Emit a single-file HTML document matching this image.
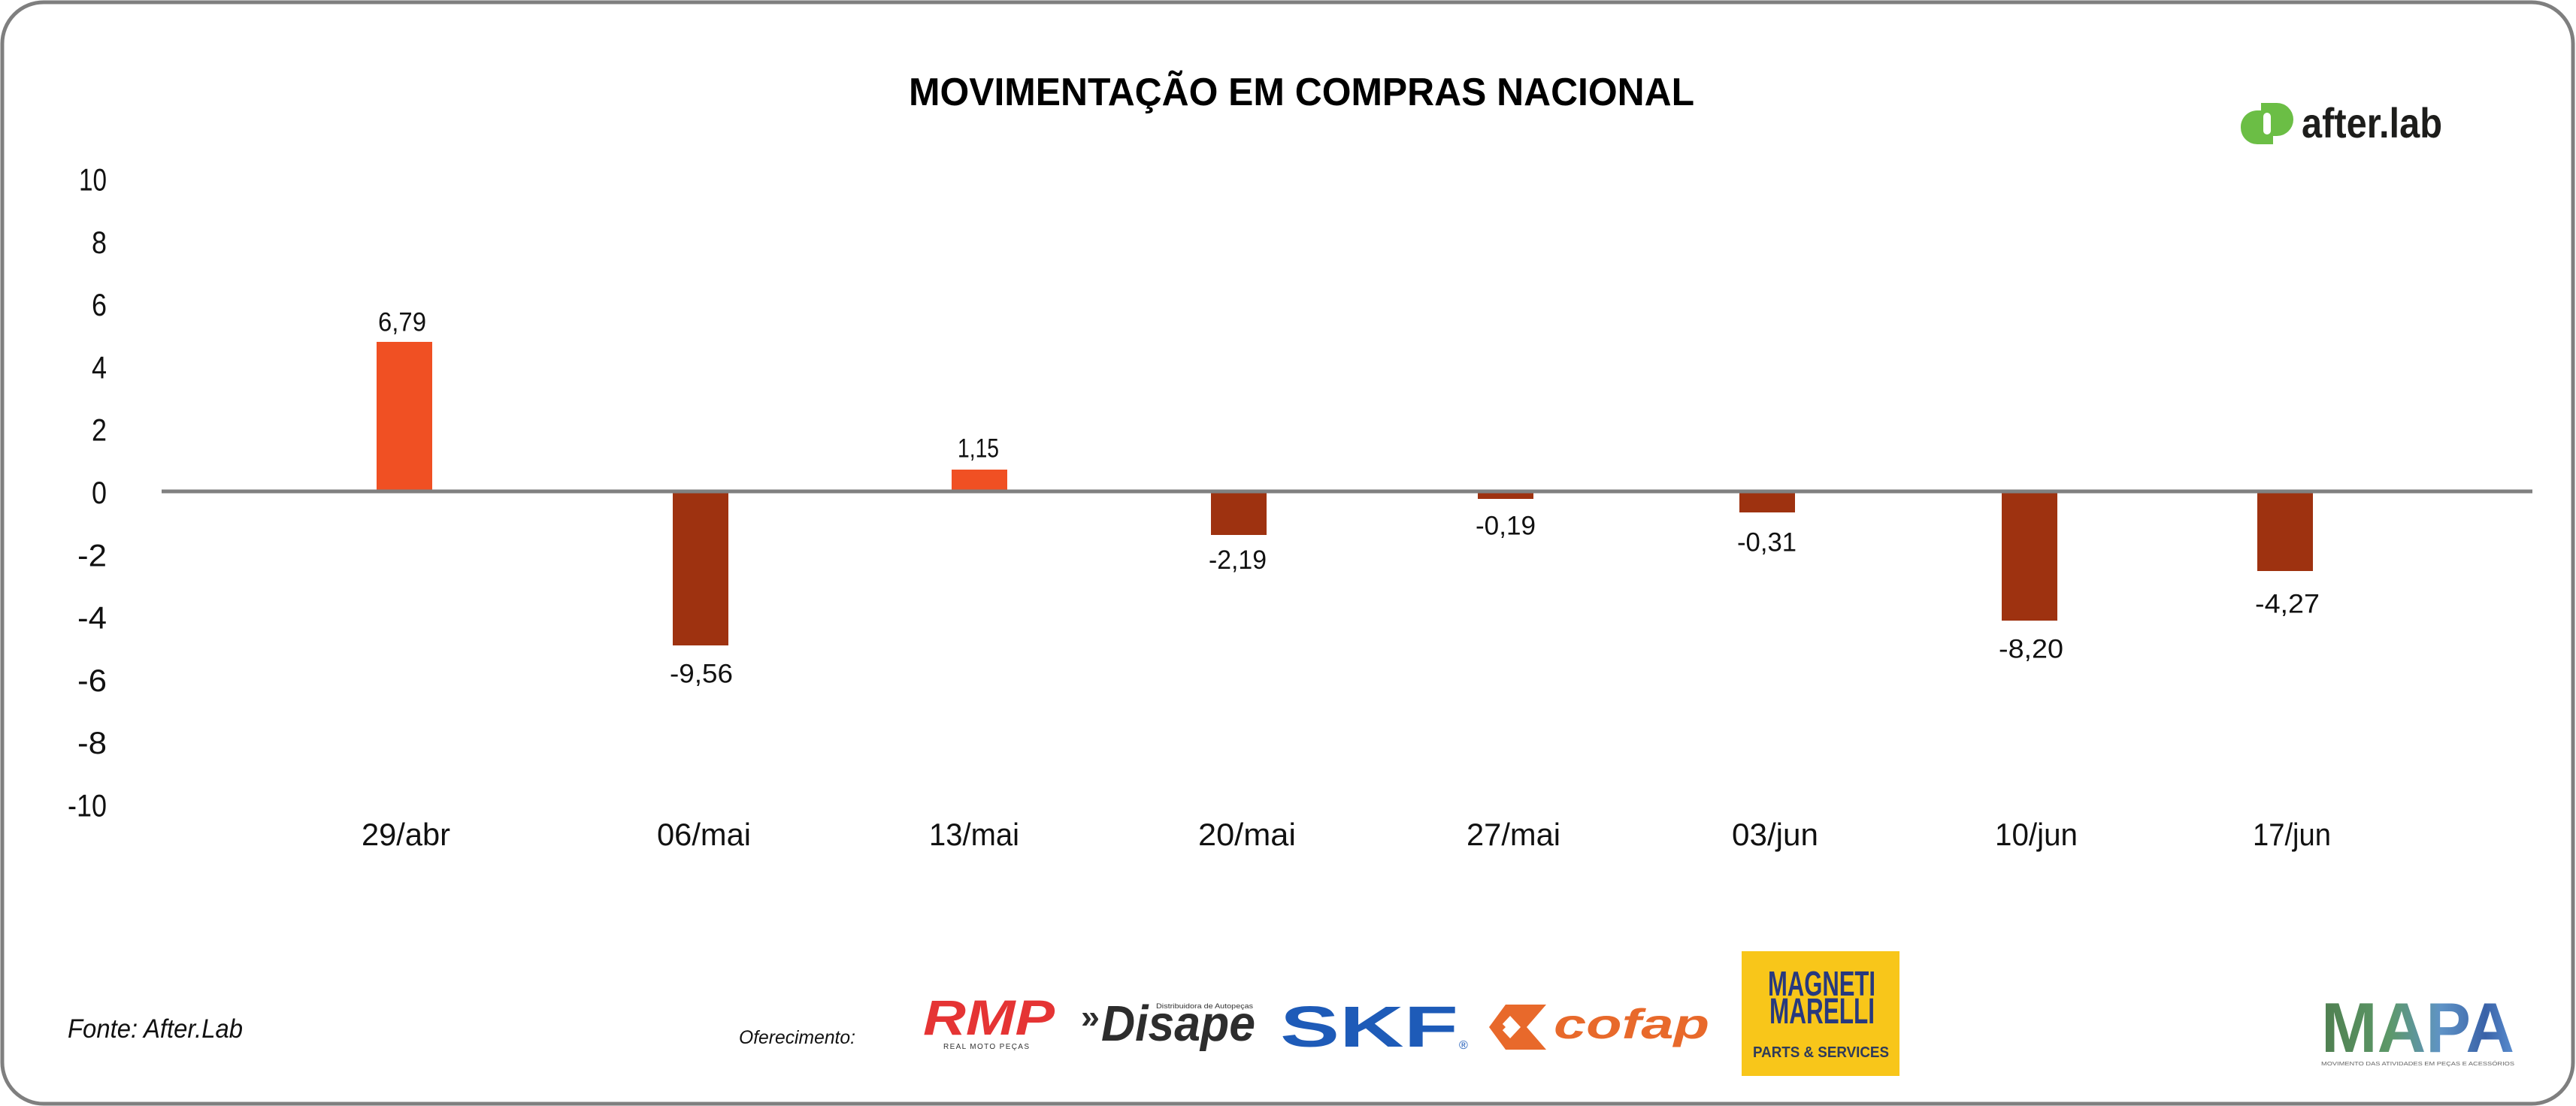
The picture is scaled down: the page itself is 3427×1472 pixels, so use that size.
<!DOCTYPE html>
<html>
<head>
<meta charset="utf-8">
<style>
html,body{margin:0;padding:0;background:#fff;}
svg{display:block;}
text{font-family:"Liberation Sans",sans-serif;}
</style>
</head>
<body>
<svg width="3427" height="1472" viewBox="0 0 3427 1472" xmlns="http://www.w3.org/2000/svg">
<defs>
<linearGradient id="mapa" x1="0" y1="0" x2="1" y2="0">
<stop offset="0" stop-color="#4f7f50"/>
<stop offset="0.35" stop-color="#5c9868"/>
<stop offset="0.62" stop-color="#5f93c6"/>
<stop offset="0.85" stop-color="#3a62a8"/>
<stop offset="1" stop-color="#5a8ed0"/>
</linearGradient>
</defs>
<rect x="0" y="0" width="3427" height="1472" fill="#fff"/>
<!-- frame -->
<rect x="3" y="3" width="3420" height="1466" rx="55" ry="55" fill="#fff" stroke="#7f7f7f" stroke-width="5"/>

<!-- title -->
<text x="1209" y="140" font-size="52" font-weight="bold" fill="#000" textLength="1045" lengthAdjust="spacingAndGlyphs">MOVIMENTAÇÃO EM COMPRAS NACIONAL</text>

<!-- after.lab logo -->
<path d="M3003 147 H3024 V182 H3008 V192 H3003 A22 22 0 0 1 2981 170 A22 22 0 0 1 3003 147 Z" fill="#6bbe45"/>
<path d="M3008 137 H3029 A22 22 0 0 1 3051 159 A22 22 0 0 1 3029 181 H3024 V147 H3008 Z" fill="#6bbe45"/>
<path d="M3008 182 H3024 V192 H3008 Z" fill="#6bbe45"/>
<rect x="3011" y="150" width="10" height="29" rx="5" fill="#fff"/>
<text x="3062" y="183" font-size="56" font-weight="bold" fill="#1d1d1b" textLength="187" lengthAdjust="spacingAndGlyphs">after.lab</text>

<!-- y tick labels -->
<g font-size="42" fill="#111">
<text x="105" y="253.5" textLength="37" lengthAdjust="spacingAndGlyphs">10</text>
<text x="122" y="336.8" textLength="20" lengthAdjust="spacingAndGlyphs">8</text>
<text x="122" y="420.1" textLength="20" lengthAdjust="spacingAndGlyphs">6</text>
<text x="122" y="503.4" textLength="20" lengthAdjust="spacingAndGlyphs">4</text>
<text x="122" y="586.7" textLength="20" lengthAdjust="spacingAndGlyphs">2</text>
<text x="122" y="670" textLength="20" lengthAdjust="spacingAndGlyphs">0</text>
<text x="103" y="753.3" textLength="39" lengthAdjust="spacingAndGlyphs">-2</text>
<text x="103" y="836.6" textLength="39" lengthAdjust="spacingAndGlyphs">-4</text>
<text x="103" y="919.9" textLength="39" lengthAdjust="spacingAndGlyphs">-6</text>
<text x="103" y="1003.2" textLength="39" lengthAdjust="spacingAndGlyphs">-8</text>
<text x="90" y="1086.5" textLength="52" lengthAdjust="spacingAndGlyphs">-10</text>
</g>

<!-- bars -->
<g>
<rect x="501" y="455" width="74" height="198" fill="#f05023"/>
<rect x="895" y="655" width="74" height="204" fill="#9e3210"/>
<rect x="1266" y="625" width="74" height="28" fill="#f05023"/>
<rect x="1611" y="655" width="74" height="57" fill="#9e3210"/>
<rect x="1966" y="655" width="74" height="9" fill="#9e3210"/>
<rect x="2314" y="655" width="74" height="27" fill="#9e3210"/>
<rect x="2663" y="655" width="74" height="171" fill="#9e3210"/>
<rect x="3003" y="655" width="74" height="105" fill="#9e3210"/>
</g>

<!-- zero line -->
<rect x="215" y="651.5" width="3154" height="5" fill="#808080"/>

<!-- value labels -->
<g font-size="35" fill="#111">
<text x="503" y="440.5" textLength="64" lengthAdjust="spacingAndGlyphs">6,79</text>
<text x="891" y="908.5" textLength="84" lengthAdjust="spacingAndGlyphs">-9,56</text>
<text x="1274" y="608.5" textLength="55" lengthAdjust="spacingAndGlyphs">1,15</text>
<text x="1608" y="757" textLength="77" lengthAdjust="spacingAndGlyphs">-2,19</text>
<text x="1963" y="711.5" textLength="80" lengthAdjust="spacingAndGlyphs">-0,19</text>
<text x="2311" y="733.5" textLength="79" lengthAdjust="spacingAndGlyphs">-0,31</text>
<text x="2659" y="875.5" textLength="86" lengthAdjust="spacingAndGlyphs">-8,20</text>
<text x="3000" y="815.5" textLength="86" lengthAdjust="spacingAndGlyphs">-4,27</text>
</g>

<!-- category labels -->
<g font-size="42" fill="#111">
<text x="481" y="1125" textLength="118" lengthAdjust="spacingAndGlyphs">29/abr</text>
<text x="874" y="1125" textLength="125" lengthAdjust="spacingAndGlyphs">06/mai</text>
<text x="1236" y="1125" textLength="120" lengthAdjust="spacingAndGlyphs">13/mai</text>
<text x="1594" y="1125" textLength="130" lengthAdjust="spacingAndGlyphs">20/mai</text>
<text x="1951" y="1125" textLength="125" lengthAdjust="spacingAndGlyphs">27/mai</text>
<text x="2304" y="1125" textLength="115" lengthAdjust="spacingAndGlyphs">03/jun</text>
<text x="2654" y="1125" textLength="110" lengthAdjust="spacingAndGlyphs">10/jun</text>
<text x="2997" y="1125" textLength="104" lengthAdjust="spacingAndGlyphs">17/jun</text>
</g>

<!-- footer -->
<text x="90" y="1381" font-size="35" font-style="italic" fill="#111" textLength="233" lengthAdjust="spacingAndGlyphs">Fonte: After.Lab</text>
<text x="983" y="1389" font-size="25" font-style="italic" fill="#111" textLength="155" lengthAdjust="spacingAndGlyphs">Oferecimento:</text>

<!-- RMP -->
<text x="1228" y="1377" font-size="66" font-weight="bold" font-style="italic" fill="#e53434" textLength="175" lengthAdjust="spacingAndGlyphs">RMP</text>
<text x="1255" y="1396" font-size="10" fill="#333" textLength="114" lengthAdjust="spacing">REAL MOTO PEÇAS</text>

<!-- Disape -->
<text x="1438" y="1368" font-size="44" font-weight="bold" fill="#2d2d2d" textLength="25" lengthAdjust="spacingAndGlyphs">»</text>
<text x="1465" y="1385" font-size="67" font-weight="bold" font-style="italic" fill="#2d2d2d" textLength="205" lengthAdjust="spacingAndGlyphs">Disape</text>
<text x="1538" y="1342" font-size="9" fill="#333" textLength="129" lengthAdjust="spacingAndGlyphs">Distribuidora de Autopeças</text>

<!-- SKF -->
<text x="1703" y="1393" font-size="77" font-weight="bold" fill="#1e5bb8" textLength="237" lengthAdjust="spacingAndGlyphs">SKF</text>
<text x="1941" y="1396" font-size="16" fill="#1e5bb8">®</text>

<!-- cofap -->
<polygon points="2003,1337 2057,1337 2031,1367 2057,1397 2003,1397 1981,1367" fill="#e8692b"/>
<polygon points="1995,1367 2009,1352 2023,1367 2009,1382" fill="#fff"/>
<polygon points="1987,1367 1995,1359 2003,1367 1995,1375" fill="#e8692b"/>
<text x="2067" y="1382" font-size="56" font-weight="bold" font-style="italic" fill="#e8692b" textLength="207" lengthAdjust="spacingAndGlyphs">cofap</text>

<!-- Magneti Marelli -->
<rect x="2317" y="1266" width="210" height="166" fill="#f8c61a"/>
<text x="2352" y="1325" font-size="46" font-weight="bold" fill="#27397f" textLength="143" lengthAdjust="spacingAndGlyphs">MAGNETI</text>
<text x="2354" y="1362" font-size="48" font-weight="bold" fill="#27397f" textLength="140" lengthAdjust="spacingAndGlyphs">MARELLI</text>
<text x="2332" y="1407" font-size="20" font-weight="bold" fill="#2e3a5a" textLength="181" lengthAdjust="spacingAndGlyphs">PARTS &amp; SERVICES</text>

<!-- MAPA -->
<text x="3088" y="1400" font-size="94" font-weight="bold" fill="url(#mapa)" textLength="257" lengthAdjust="spacingAndGlyphs">MAPA</text>
<text x="3088" y="1418" font-size="7" fill="#666" textLength="257" lengthAdjust="spacingAndGlyphs">MOVIMENTO DAS ATIVIDADES EM PEÇAS E ACESSÓRIOS</text>
</svg>
</body>
</html>
